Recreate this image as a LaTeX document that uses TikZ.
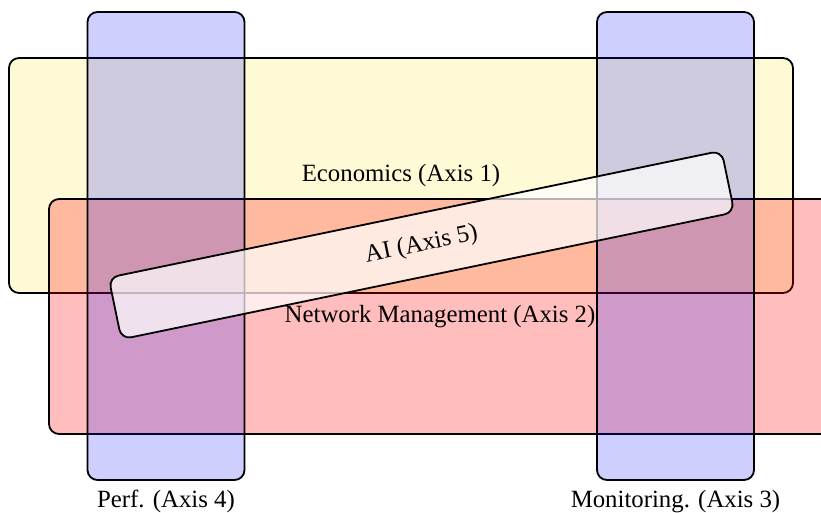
\documentclass[tikz,border=0pt]{standalone}
\usepackage{fontspec}
\setmainfont{Liberation Serif}
\usepackage{tikz}
\usetikzlibrary{backgrounds,calc}
\definecolor{econyellow}{RGB}{255,230,50}

\begin{document}
\begin{tikzpicture}[x=0.5pt,y=-0.5pt,font=\fontsize{12.4}{14}\selectfont,
  axisbox/.style={draw=black,line width=0.9pt,rounded corners=5pt,inner sep=0pt,text opacity=1},
  vertbox/.style={axisbox,fill=blue,fill opacity=0.19,minimum width=78.5pt,minimum height=234pt}]
\path[use as bounding box,clip] (0,0) rectangle (821,513);
\node[axisbox,fill=econyellow,fill opacity=0.2,minimum width=392pt,minimum height=117.5pt] (econ) at (401,175.5) {Economics (Axis 1)};
\node[axisbox,fill=red,fill opacity=0.26,minimum width=391pt,minimum height=117.5pt] (netman) at (440,316.5) {Network Management (Axis 2)};
\node[vertbox,label={[label distance=1pt,text opacity=1]below:Perf. (Axis 4)}] (perf) at (166,246) {};
\node[vertbox,label={[label distance=1pt,text opacity=1]below:Monitoring. (Axis 3)}] (monit) at (675.5,246) {};
\node[axisbox,fill=white,fill opacity=0.7,rotate=11.7,minimum width=313pt,minimum height=31.5pt] (ai) at (421.5,245) {AI (Axis 5)};
\end{tikzpicture}
\end{document}
